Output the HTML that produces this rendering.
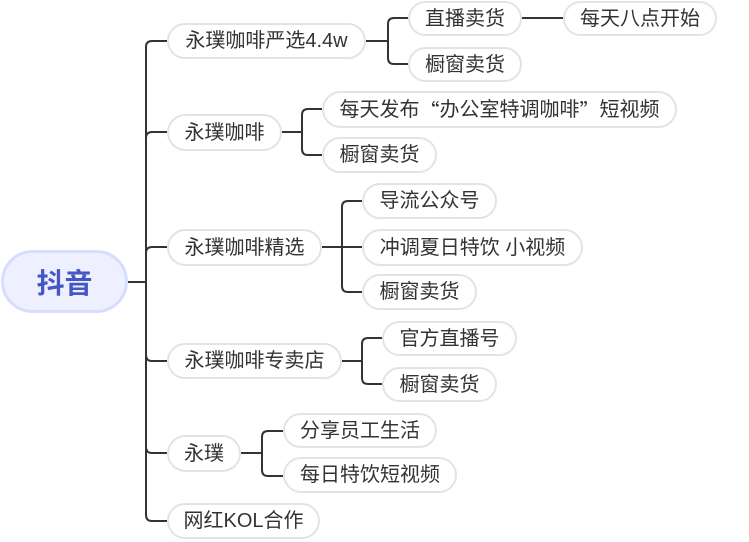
<!DOCTYPE html>
<html><head><meta charset="utf-8"><style>
html,body{margin:0;padding:0;background:#fff;}
body{width:749px;height:542px;position:relative;overflow:hidden;font-family:"Liberation Sans","Noto Sans CJK SC",sans-serif;}
.n{position:absolute;box-sizing:border-box;border:2px solid #e3e3e3;background:#fff;border-radius:20px;display:flex;align-items:center;justify-content:center;font-size:20px;color:#333;white-space:nowrap;line-height:1;}
.q{font-family:"Noto Sans CJK SC",sans-serif;}
.root{position:absolute;box-sizing:border-box;left:1px;top:250px;width:127px;height:63px;border:3px solid #d6ddff;background:#eef0ff;border-radius:32px;display:flex;align-items:center;justify-content:center;font-size:28px;font-weight:bold;color:#4457c4;}
svg{position:absolute;left:0;top:0;}
</style></head><body>
<svg width="749" height="542" fill="none" stroke="#333" stroke-width="2">
<path d="M128 282 H146"/>
<path d="M146 282 V47 Q146 41 152 41 H167"/>
<path d="M146 282 V138 Q146 132 152 132 H167"/>
<path d="M146 282 V253 Q146 247 152 247 H167"/>
<path d="M146 282 V355 Q146 361 152 361 H167"/>
<path d="M146 282 V447 Q146 453 152 453 H167"/>
<path d="M146 282 V515 Q146 521 152 521 H167"/>
<path d="M366 41 H388"/>
<path d="M388 41 V24 Q388 18 394 18 H408"/>
<path d="M388 41 V58 Q388 64 394 64 H408"/>
<path d="M522 18 H563"/>
<path d="M282 132 H302"/>
<path d="M302 132 V115 Q302 109 308 109 H322"/>
<path d="M302 132 V149 Q302 155 308 155 H322"/>
<path d="M322 247 H362"/>
<path d="M342 247 V207 Q342 201 348 201 H362"/>
<path d="M342 247 V286 Q342 292 348 292 H362"/>
<path d="M342 361 H362"/>
<path d="M362 361 V344 Q362 338 368 338 H382"/>
<path d="M362 361 V378 Q362 384 368 384 H382"/>
<path d="M241 453 H262"/>
<path d="M262 453 V437 Q262 431 268 431 H283"/>
<path d="M262 453 V470 Q262 476 268 476 H283"/>
</svg>
<div class="root">抖音</div>
<div class="n" style="left:167px;top:23px;width:199px;height:36px;">永璞咖啡严选4.4w</div>
<div class="n" style="left:167px;top:114px;width:115px;height:37px;">永璞咖啡</div>
<div class="n" style="left:167px;top:229px;width:155px;height:37px;">永璞咖啡精选</div>
<div class="n" style="left:167px;top:343px;width:175px;height:36px;">永璞咖啡专卖店</div>
<div class="n" style="left:167px;top:435px;width:74px;height:37px;">永璞</div>
<div class="n" style="left:167px;top:503px;width:153px;height:36px;">网红KOL合作</div>

<div class="n" style="left:408px;top:1px;width:114px;height:35px;">直播卖货</div>
<div class="n" style="left:563px;top:1px;width:154px;height:35px;">每天八点开始</div>
<div class="n" style="left:408px;top:47px;width:114px;height:35px;">橱窗卖货</div>
<div class="n" style="left:322px;top:91px;width:355px;height:37px;">每天发布<span class="q">“</span>办公室特调咖啡<span class="q">”</span>短视频</div>
<div class="n" style="left:322px;top:137px;width:115px;height:36px;">橱窗卖货</div>
<div class="n" style="left:362px;top:183px;width:135px;height:36px;">导流公众号</div>
<div class="n" style="left:362px;top:229px;width:221px;height:37px;">冲调夏日特饮 小视频</div>
<div class="n" style="left:362px;top:274px;width:115px;height:36px;">橱窗卖货</div>
<div class="n" style="left:382px;top:321px;width:135px;height:35px;">官方直播号</div>
<div class="n" style="left:382px;top:367px;width:115px;height:35px;">橱窗卖货</div>
<div class="n" style="left:283px;top:413px;width:154px;height:35px;">分享员工生活</div>
<div class="n" style="left:283px;top:457px;width:174px;height:36px;">每日特饮短视频</div>
</body></html>
